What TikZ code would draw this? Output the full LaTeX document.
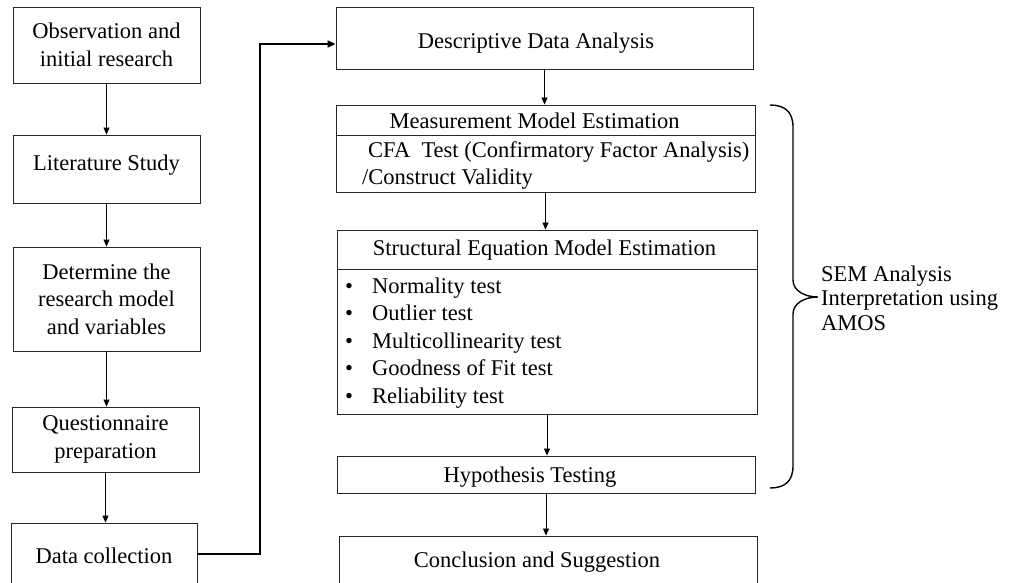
\documentclass[tikz,border=0pt]{standalone}
\usepackage{fontspec}
\setmainfont{Liberation Serif}
\usetikzlibrary{arrows.meta,calc}
\newcommand{\placetext}[2]{\raisebox{#1}[0pt][0pt]{#2}}
\begin{document}
\begin{tikzpicture}[x=1pt,y=-1pt,
  box/.style={draw=black!85,line width=0.9pt,inner sep=0pt,align=center,
    font=\fontsize{22.5}{27.5}\selectfont},
  txt/.style={inner sep=0pt,align=left,font=\fontsize{22.5}{27.5}\selectfont},
  arr/.style={draw=black,line width=0.8pt,-{Triangle[length=7pt,width=6pt]}},
  thick arr/.style={draw=black,line width=1.8pt,-{Triangle[length=8pt,width=7pt]}},
  brace/.style={draw=black,line width=1.4pt}]
\useasboundingbox (0,0) rectangle (1011,583);
\clip (0,0) rectangle (1011,583);
% left column
\node[box,minimum width=187pt,minimum height=76pt] (obs) at (106.5,45) {Observation and\\initial research};
\node[box,minimum width=187pt,minimum height=68pt] (lit) at (106.5,169) {\placetext{-1pt}{Literature Study}};
\node[box,minimum width=187pt,minimum height=104pt] (det) at (106.5,299) {Determine the\\research model\\and variables};
\node[box,minimum width=187pt,minimum height=65pt] (que) at (105.5,439.5) {Questionnaire\\preparation};
\node[box,minimum width=186pt,minimum height=62pt] (dat) at (104,554) {\placetext{-9pt}{Data collection}};
% right column
\node[box,minimum width=417pt,minimum height=62pt] (desc) at (544.5,38) {\placetext{-11pt}{Descriptive Data Analysis\hspace*{17pt}}};
\node[box,minimum width=419pt,minimum height=30pt] (mh) at (545.5,120) {\placetext{-9pt}{Measurement Model Estimation\hspace*{22pt}}};
\node[box,minimum width=419pt,minimum height=57pt] (mb) at (545.5,163.5) {};
\node[txt,anchor=west] (mt) at (362,165.5) {\hspace*{6pt}CFA\ \ Test (Confirmatory Factor Analysis)\\/Construct Validity};
\node[box,minimum width=420pt,minimum height=39pt] (sh) at (547,249.5) {\placetext{-5.5pt}{Structural Equation Model Estimation\hspace*{5pt}}};
\node[box,minimum width=420pt,minimum height=145pt] (sb) at (547,341.5) {};
\node[txt,anchor=west] (st) at (345,343) {%
\makebox[27pt][l]{\textbullet}Normality test\\
\makebox[27pt][l]{\textbullet}Outlier test\\
\makebox[27pt][l]{\textbullet}Multicollinearity test\\
\makebox[27pt][l]{\textbullet}Goodness of Fit test\\
\makebox[27pt][l]{\textbullet}Reliability test};
\node[box,minimum width=418pt,minimum height=37pt] (hyp) at (546,474.5) {\placetext{-7.5pt}{Hypothesis Testing\hspace*{32pt}}};
\node[box,minimum width=418pt,minimum height=74pt] (conc) at (548,573) {\placetext{6pt}{Conclusion and Suggestion\hspace*{22pt}}};
% brace and label
\coordinate (bt) at (770,105);
\coordinate (bm) at (818,297);
\coordinate (bb) at (770,488);
\draw[brace] (bt) .. controls (785,105) and (793,112) .. (793,127) -- (793,280)
  .. controls (793,291) and (805,297) .. (bm)
  .. controls (805,297) and (793,303) .. (793,314) -- (793,466)
  .. controls (793,481) and (785,488) .. (bb);
\node[inner sep=0pt,anchor=west,align=left,font=\fontsize{22.5}{24.5}\selectfont] (sem) at (821,298) {SEM Analysis\\Interpretation using\\AMOS};
% connectors
\draw[arr] (obs.south) -- (obs.south |- lit.north);
\draw[arr] (lit.south) -- (lit.south |- det.north);
\draw[arr] (det.south) -- (det.south |- que.north);
\draw[arr] (que.south) -- (que.south |- dat.north);
\coordinate (jt) at (260,44);
\draw[thick arr] (dat.east) -| (jt) -- (desc.west |- jt);
\draw[arr] (desc.south) -- (desc.south |- mh.north);
\draw[arr] (mb.south) -- (mb.south |- sh.north);
\draw[arr] (sb.south) -- (sb.south |- hyp.north);
\draw[arr] (hyp.south) -- (hyp.south |- conc.north);
\end{tikzpicture}
\end{document}
